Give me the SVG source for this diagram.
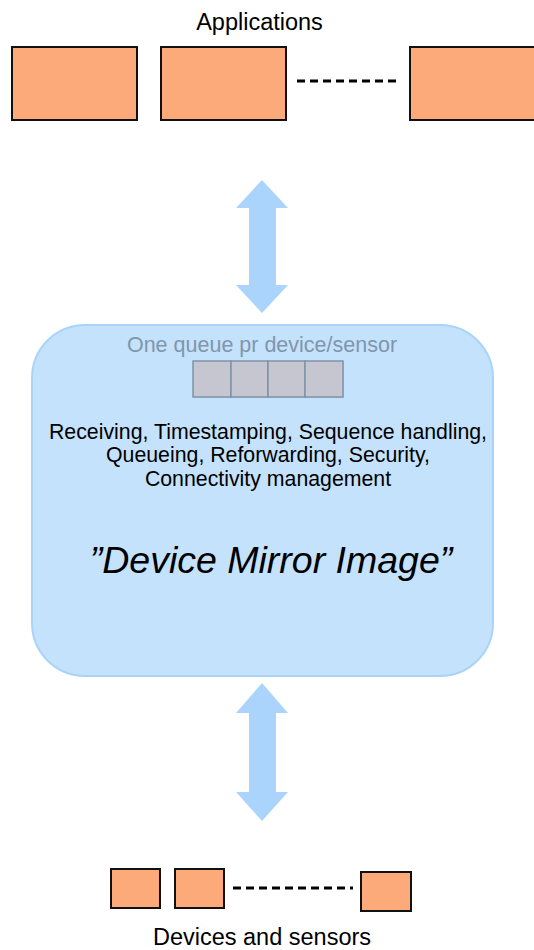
<svg xmlns="http://www.w3.org/2000/svg" width="534" height="950" viewBox="0 0 534 950">
<style>
text{font-family:"Liberation Sans",Arial,sans-serif;text-anchor:middle}
.box{fill:#fcaa79;stroke:#111;stroke-width:2}
.dash{stroke:#000;stroke-width:3;stroke-dasharray:8 5;fill:none}
.arrow{fill:#aad4fc}
.cell{fill:#c5c6d0;stroke:#7f93a8;stroke-width:1.5}
.lbl{font-size:23.5px;fill:#000}
.body{font-size:21.3px;fill:#000}
</style>
<rect width="534" height="950" fill="#fff"/>
<g id="applications">
<text class="lbl" x="259.5" y="30">Applications</text>
<rect class="box" x="12" y="47" width="125" height="73"/>
<rect class="box" x="161" y="47" width="125" height="73"/>
<rect class="box" x="410" y="47" width="140" height="73"/>
</g>
<g id="mirror">
<rect x="32" y="325" width="461" height="351" rx="53" ry="53" fill="#c5e2fd" stroke="#a9d4f8" stroke-width="2"/>
<text x="262" y="352" font-size="21.5px" fill="#7f96ab">One queue pr device/sensor</text>
<g id="queue">
<rect x="194" y="362" width="150" height="36" fill="#b0b4be" opacity="0.5"/>
<rect class="cell" x="193" y="361" width="38" height="36"/>
<rect class="cell" x="231" y="361" width="37" height="36"/>
<rect class="cell" x="268" y="361" width="37" height="36"/>
<rect class="cell" x="305" y="361" width="38" height="36"/>
</g>
<text class="body" x="268" y="439">Receiving, Timestamping, Sequence handling,</text>
<text class="body" x="268" y="462">Queueing, Reforwarding, Security,</text>
<text class="body" x="268" y="486">Connectivity management</text>
<text x="271" y="573" font-size="37.5px" font-style="italic" fill="#000">”Device Mirror Image”</text>
</g>
<g id="devices">
<rect class="box" x="111" y="869" width="49" height="39"/>
<rect class="box" x="175" y="869" width="49" height="39"/>
<rect class="box" x="361" y="872" width="50" height="39"/>
<text class="lbl" x="262" y="945">Devices and sensors</text>
</g>
<g id="connectors">
<line class="dash" x1="297" y1="81" x2="401" y2="81"/>
<line class="dash" x1="233" y1="888" x2="353" y2="888" stroke-dasharray="8 4"/>
<polygon class="arrow" points="262,180 288,208 276,208 276,285 288,285 262,313 236,285 249,285 249,208 236,208"/>
<polygon class="arrow" points="262,683 288,713 276,713 276,792 288,792 262,821 236,792 249,792 249,713 236,713"/>
</g>
</svg>
